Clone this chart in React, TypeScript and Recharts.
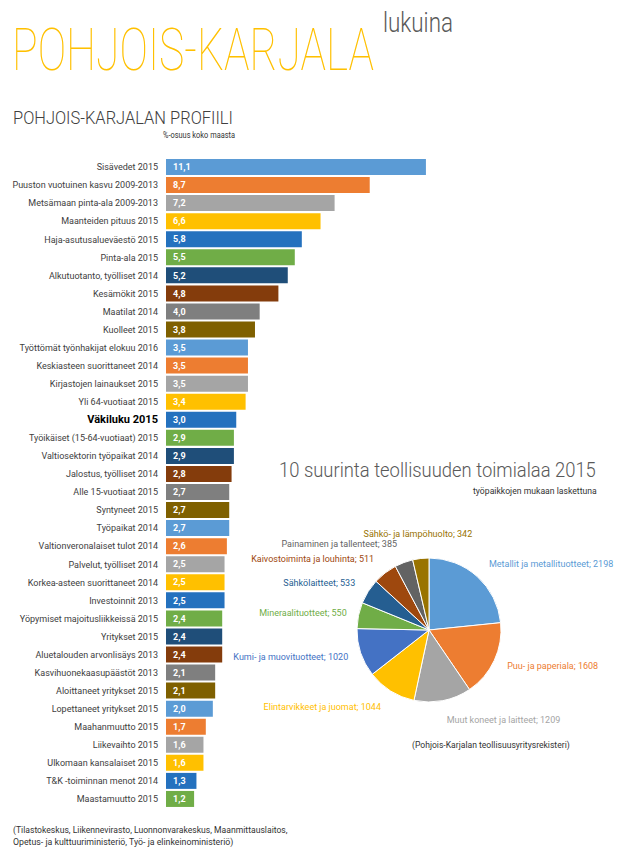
import { BarChart, Bar, XAxis, YAxis, Cell, LabelList, PieChart, Pie } from 'recharts'

// Profiili: %-osuus koko maasta
const profileLabels = [
  'Sisävedet 2015',
  'Puuston vuotuinen kasvu 2009-2013',
  'Metsämaan pinta-ala 2009-2013',
  'Maanteiden pituus 2015',
  'Haja-asutusalueväestö 2015',
  'Pinta-ala 2015',
  'Alkutuotanto, työlliset 2014',
  'Kesämökit 2015',
  'Maatilat 2014',
  'Kuolleet 2015',
  'Työttömät työnhakijat elokuu 2016',
  'Keskiasteen suorittaneet 2014',
  'Kirjastojen lainaukset 2015',
  'Yli 64-vuotiaat 2015',
  'Väkiluku 2015',
  'Työikäiset (15-64-vuotiaat) 2015',
  'Valtiosektorin työpaikat 2014',
  'Jalostus, työlliset 2014',
  'Alle 15-vuotiaat 2015',
  'Syntyneet 2015',
  'Työpaikat 2014',
  'Valtionveronalaiset tulot 2014',
  'Palvelut, työlliset 2014',
  'Korkea-asteen suorittaneet 2014',
  'Investoinnit 2013',
  'Yöpymiset majoitusliikkeissä 2015',
  'Yritykset 2015',
  'Aluetalouden arvonlisäys 2013',
  'Kasvihuonekaasupäästöt 2013',
  'Aloittaneet yritykset 2015',
  'Lopettaneet yritykset 2015',
  'Maahanmuutto 2015',
  'Liikevaihto 2015',
  'Ulkomaan kansalaiset 2015',
  'T&K -toiminnan menot 2014',
  'Maastamuutto 2015',
]
const profileValues = [
  11.1, 8.7, 7.2, 6.6, 5.8, 5.5, 5.2, 4.8, 4.0, 3.8, 3.5, 3.5, 3.5, 3.4, 3.0, 2.9, 2.9, 2.8,
  2.7, 2.7, 2.7, 2.6, 2.5, 2.5, 2.5, 2.4, 2.4, 2.4, 2.1, 2.1, 2.0, 1.7, 1.6, 1.6, 1.3, 1.2,
]

// 10 suurinta teollisuuden toimialaa 2015 (työpaikkoja)
const industryNames = [
  'Metallit ja metallituotteet',
  'Puu- ja paperiala',
  'Muut koneet ja laitteet',
  'Elintarvikkeet ja juomat',
  'Kumi- ja muovituotteet',
  'Mineraalituotteet',
  'Sähkölaitteet',
  'Kaivostoiminta ja louhinta',
  'Painaminen ja tallenteet',
  'Sähkö- ja lämpöhuolto',
]
const industryCounts = [2198, 1608, 1209, 1044, 1020, 550, 533, 511, 385, 342]

const barColors = ['#5B9BD5', '#ED7D31', '#A5A5A5', '#FFC000', '#2471BE', '#70AD47', '#1F4E79', '#843C0C', '#7F7F7F', '#7F6000']
const pieColors = ['#5B9BD5', '#ED7D31', '#A5A5A5', '#FFC000', '#4472C4', '#70AD47', '#255E91', '#9E480E', '#636363', '#997300']

const FONT = 'Roboto, "Open Sans", sans-serif'
const RAD = Math.PI / 180

const profileData = profileLabels.map((name, i) => ({ name, value: profileValues[i] }))
const industryData = industryNames.map((name, i) => ({ name, value: industryCounts[i] }))

// measure natural text width so wide display text can be squeezed with scaleX
let measureCtx: CanvasRenderingContext2D | null = null
function measure(text: string, font: string) {
  if (!measureCtx) measureCtx = document.createElement('canvas').getContext('2d')
  if (!measureCtx) return 0
  measureCtx.font = font
  return measureCtx.measureText(text).width
}

function FittedText({ x, y, width, size, weight = 400, fill, children }: any) {
  const w = measure(children, `${weight} ${size}px ${FONT}`)
  const sx = w > 0 ? width / w : 1
  return (
    <text transform={`translate(${x},${y}) scale(${sx.toFixed(4)},1)`} fontFamily={FONT} fontSize={size} fontWeight={weight} fill={fill}>
      {children}
    </text>
  )
}

function CategoryTick({ x, y, payload }: any) {
  const bold = payload.value === 'Väkiluku 2015'
  return (
    <text
      x={x}
      y={y}
      dy={3.3}
      textAnchor="end"
      fontFamily={FONT}
      fontSize={bold ? 11 : 9}
      fontWeight={bold ? 700 : 400}
      fill={bold ? '#000' : '#404040'}
    >
      {payload.value}
    </text>
  )
}

function ValueLabel({ x, y, height, value }: any) {
  return (
    <text
      x={Number(x) + 7}
      y={Number(y) + Number(height) / 2}
      dy={3.2}
      fontFamily={FONT}
      fontSize={9}
      fontWeight={700}
      fill="#fff"
    >
      {Number(value).toFixed(1).replace('.', ',')}
    </text>
  )
}

function renderPieLabel(props: any) {
  const { cx, cy, midAngle, outerRadius, index } = props
  const dx = Math.cos(-midAngle * RAD)
  const dy = Math.sin(-midAngle * RAD)
  const anchor = dx > 0.15 ? 'start' : dx < -0.15 ? 'end' : 'middle'
  const r = anchor === 'middle' ? outerRadius + 25 : outerRadius + 10 + 10 * Math.abs(dy)
  const x = cx + r * dx
  const y = cy + r * dy
  return (
    <text x={x} y={y} dy={3} textAnchor={anchor} fontFamily={FONT} fontSize={9} fill={pieColors[index % pieColors.length]}>
      {industryNames[index]}; {industryCounts[index]}
    </text>
  )
}

export default function App() {
  return (
    <div style={{ position: 'absolute', left: 0, top: 0, width: 623, height: 852, background: '#fff', overflow: 'hidden' }}>
      <div style={{ position: 'absolute', left: 0, top: 150 }}>
        <BarChart
          width={450}
          height={670}
          data={profileData}
          layout="vertical"
          margin={{ top: 8, right: 3, bottom: 12, left: 0 }}
          barCategoryGap={2}
        >
          <XAxis type="number" domain={[0, 12]} hide />
          <YAxis
            type="category"
            dataKey="name"
            width={166}
            axisLine={false}
            tickLine={false}
            tickSize={6}
            tickMargin={2}
            interval={0}
            tick={(p: any) => <CategoryTick {...p} />}
          />
          <Bar dataKey="value" barSize={16} isAnimationActive={false}>
            {profileData.map((_, i) => (
              <Cell key={i} fill={barColors[i % barColors.length]} />
            ))}
            <LabelList dataKey="value" content={(p: any) => <ValueLabel {...p} />} />
          </Bar>
        </BarChart>
      </div>

      <div style={{ position: 'absolute', left: 160, top: 440 }}>
        <PieChart width={463} height={330}>
          <Pie
            data={industryData}
            dataKey="value"
            nameKey="name"
            cx={264}
            cy={185}
            outerRadius={72}
            startAngle={90}
            endAngle={-270}
            stroke="#fff"
            strokeWidth={1}
            labelLine={false}
            label={renderPieLabel}
            isAnimationActive={false}
          >
            {industryData.map((_, i) => (
              <Cell key={i} fill={pieColors[i % pieColors.length]} />
            ))}
          </Pie>
        </PieChart>
      </div>

      <svg width={623} height={852} style={{ position: 'absolute', left: 0, top: 0, pointerEvents: 'none' }}>
        <FittedText x={12} y={70} width={362} size={59} weight={100} fill="#FFC000">
          POHJOIS-KARJALA
        </FittedText>
        <FittedText x={383} y={32} width={70} size={27} weight={300} fill="#595959">
          lukuina
        </FittedText>
        <FittedText x={13} y={124} width={220} size={19} weight={300} fill="#404040">
          POHJOIS-KARJALAN PROFIILI
        </FittedText>
        <FittedText x={163} y={138} width={72} size={8.5} fill="#333">
          %-osuus koko maasta
        </FittedText>
        <FittedText x={279} y={477} width={317} size={21} weight={300} fill="#595959">
          10 suurinta teollisuuden toimialaa 2015
        </FittedText>
        <FittedText x={473} y={494} width={124} size={8.5} fill="#333">
          työpaikkojen mukaan laskettuna
        </FittedText>
        <FittedText x={412} y={748} width={158} size={9} fill="#333">
          (Pohjois-Karjalan teollisuusyritysrekisteri)
        </FittedText>
        <FittedText x={13} y={833} width={275} size={9} fill="#333">
          (Tilastokeskus, Liikennevirasto, Luonnonvarakeskus, Maanmittauslaitos,
        </FittedText>
        <FittedText x={13} y={845} width={221} size={9} fill="#333">
          Opetus- ja kulttuuriministeriö, Työ- ja elinkeinoministeriö)
        </FittedText>
      </svg>
    </div>
  )
}
